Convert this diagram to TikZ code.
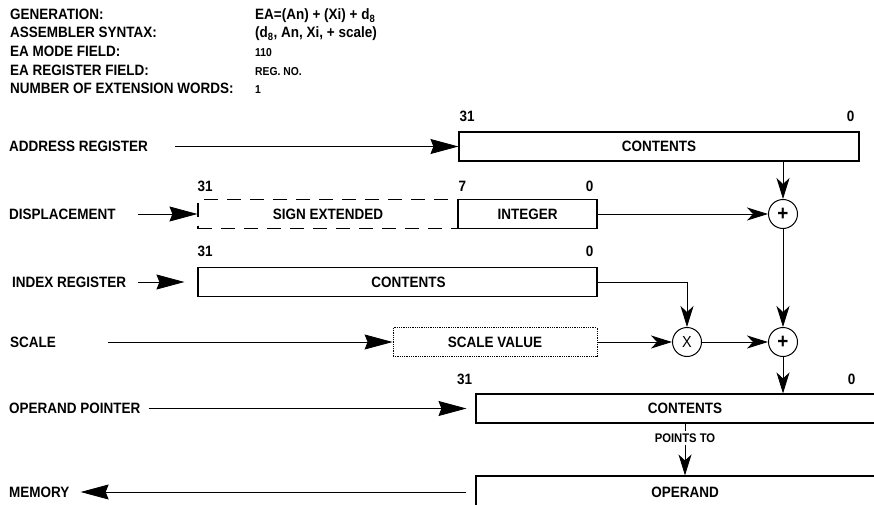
\documentclass[tikz,border=0pt]{standalone}
\usepackage{fontspec}
\setmainfont{Liberation Sans}[FakeStretch=0.9]
\usetikzlibrary{arrows.meta,positioning}
\newcommand{\regfont}{\fontsize{15}{17}\selectfont\bfseries}
\newcommand{\smallfnt}{\fontsize{11.5}{13}\selectfont\bfseries}
\tikzset{
  hdr/.style   ={anchor=base west,inner sep=0pt,font=\regfont},
  hval/.style  ={anchor=base west,inner sep=0pt,font=\smallfnt},
  rowlab/.style={anchor=west,inner sep=0pt,font=\regfont},
  reg/.style   ={draw,line width=1.1pt,minimum height=29pt,inner sep=0pt,
                 font=\regfont},
  ext/.style   ={reg,dash pattern=on 14pt off 9pt},
  opt/.style   ={reg,line width=0.8pt,densely dotted},
  alu/.style   ={draw,circle,line width=1pt,minimum size=29pt,inner sep=0pt,
                 font=\fontsize{21}{21}\selectfont\bfseries},
  bit/.style   ={inner sep=0pt,font=\regfont},
  ina/.style   ={line width=0.8pt,-{Stealth[length=28pt,width=15pt,inset=3pt]}},
  ar/.style    ={line width=0.8pt,-{Stealth[length=21pt,width=13pt,inset=6pt]}},
}

\begin{document}
\begin{tikzpicture}[x=1pt,y=-1pt]
\useasboundingbox (0,0) rectangle (874,505);

\node[hdr] (gen)  at (10,20) {GENERATION:};
\node[hdr] (asm)  at (10,38) {ASSEMBLER SYNTAX:};
\node[hdr] (mode) at (10,57) {EA MODE FIELD:};
\node[hdr] (regf) at (10,76) {EA REGISTER FIELD:};
\node[hdr] (nwd)  at (10,94) {NUMBER OF EXTENSION WORDS:};
\node[hdr]  (vgen)  at (255,20) {EA=(An) + (Xi) + d\textsubscript{8}};
\node[hdr]  (vasm)  at (255,38) {(d\textsubscript{8}, An, Xi, + scale)};
\node[hval] (vmode) at (255,57) {110};
\node[hval] (vregf) at (255,76) {REG. NO.};
\node[hval] (vnwd)  at (255,94) {1};

\node[rowlab] (lAR)  at (9,146.5) {ADDRESS REGISTER};
\node[rowlab] (lDSP) at (9,214)   {DISPLACEMENT};
\node[rowlab] (lIX)  at (12,282)  {INDEX REGISTER};
\node[rowlab] (lSC)  at (10,342)  {SCALE};
\node[rowlab] (lOPP) at (9,408.5) {OPERAND POINTER};
\node[rowlab] (lMEM) at (9,492)   {MEMORY};

\node[reg,minimum width=400pt] (AR)  at (659,146.5) {CONTENTS};
\node[ext,minimum width=260pt] (SE)  at (328,214)   {SIGN EXTENDED};
\node[reg,minimum width=139pt] (INT) at (527.5,214) {INTEGER};
\node[reg,minimum width=399pt] (IX)  at (397.5,282) {\hspace*{22pt}CONTENTS};
\node[opt,minimum width=204pt] (SV)  at (495,342)   {SCALE VALUE};
\node[reg,minimum width=418pt] (OPP) at (685,408.5) {CONTENTS};
\node[reg,minimum width=418pt,minimum height=32pt] (OPD) at (685,492) {OPERAND};

\node[alu] (ADDa) at (783,214) {+};
\node[alu,font=\fontsize{16}{16}\selectfont] (MUL) at (687,342) {X};
\node[alu] (ADDb) at (783,342) {+};

\node[font=\fontsize{12.5}{14}\selectfont\bfseries,inner sep=2pt] (PTO) at (685,438) {POINTS TO};

\node[bit,above right=10pt and 1pt of AR.north west]  (arH)  {31};
\node[bit,above left=10pt and 5pt of AR.north east]   (arL)  {0};
\node[bit,above right=7pt and 0pt of SE.north west]   (seH)  {31};
\node[bit,above right=7pt and 1pt of INT.north west]  (intH) {7};
\node[bit,above left=7pt and 4pt of INT.north east]   (intL) {0};
\node[bit,above right=10pt and 0pt of IX.north west]  (ixH)  {31};
\node[bit,above left=10pt and 4pt of IX.north east]   (ixL)  {0};
\node[bit,above left=9pt and 3pt of OPP.north west]   (oppH) {31};
\node[bit,above left=9pt and 39pt of OPP.north east]  (oppL) {0};

\draw[ina,shorten <=27pt] (lAR) -- (AR);
\draw[ina,shorten <=22pt] (lDSP) -- (SE);
\draw[ina,shorten <=12pt,shorten >=13pt] (lIX) -- (IX);
\draw[ina,shorten <=52pt] (lSC) -- (SV);
\draw[ina,shorten <=8pt,shorten >=9pt] (lOPP) -- (OPP);
\draw[ina,shorten <=9pt,shorten >=11pt] (OPD) -- (lMEM);

\draw[ar] (AR.south -| ADDa) -- (ADDa);
\draw[ar] (INT) -- (ADDa);
\draw[ar] (IX.east) -| (MUL);
\draw[ar] (SV) -- (MUL);
\draw[ar] (MUL) -- (ADDb);
\draw[ar] (ADDa) -- (ADDb);
\draw[ar] (ADDb) -- (ADDb |- OPP.north);
\draw[line width=0.8pt] (OPP.south -| PTO) -- (PTO);
\draw[ar] (PTO) -- (PTO |- OPD.north);
\end{tikzpicture}
\end{document}
